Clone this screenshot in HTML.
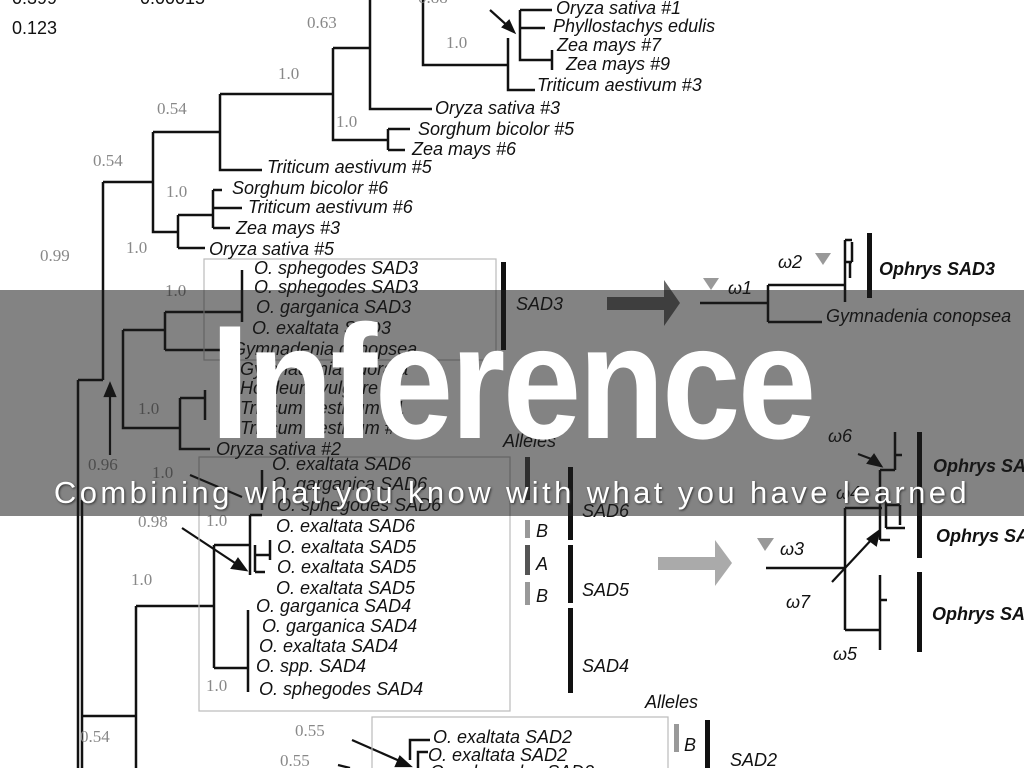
<!DOCTYPE html>
<html><head><meta charset="utf-8"><style>
html,body{margin:0;padding:0;background:#fff;width:1024px;height:768px;overflow:hidden;position:relative}
svg{position:absolute;left:0;top:0}
.l{font-family:"Liberation Sans",sans-serif;font-style:italic;font-size:18px;fill:#111}
.g{font-family:"Liberation Serif",serif;font-size:17px;fill:#888}
.b{font-family:"Liberation Sans",sans-serif;font-style:italic;font-weight:bold;font-size:18px;fill:#111}
#banner{position:absolute;left:0;top:290px;width:1024px;height:226px;background:rgba(30,30,30,0.55)}
#t1{position:absolute;left:0;top:302px;width:1024px;text-align:center;font-family:"Liberation Sans",sans-serif;font-weight:bold;font-size:162px;color:#fff;line-height:1;letter-spacing:-3px;transform:scaleX(0.87);transform-origin:512px 0}
#t2{position:absolute;left:0;top:477px;width:1024px;text-align:center;font-family:"Liberation Sans",sans-serif;font-size:31px;color:#fff;letter-spacing:3.4px;text-shadow:1px 1px 2px #333;line-height:1}
</style></head><body>
<svg width="1024" height="768" viewBox="0 0 1024 768">
<g fill="none" stroke="#111" stroke-width="2.5">
<path d="M370 0V109H432M333 48H370M333 48V140H388M388 129V150M388 129H410M388 150H405"/>
<path d="M423 0V65H508M508 38V90H535M520 10V60H545M520 10H552M520 28H545M520 60H552M552 50V70"/>
<path d="M220 94H333M220 94V170H262M153 132H220M153 132V232H178M178 215V248M178 215H213M178 248H205M213 190V228M213 190H222M213 208H242M213 228H230"/>
<path d="M103 182H153M103 182V380"/>
<path d="M123 330V428H180M123 330H165M165 312V350M165 312H242M165 350H240M242 270V322"/>
<path d="M180 398V449H210M180 398H205M205 390V420"/>
<path d="M78 380H103M78 380V768M82 500V768M82 716H136M136 606V768M136 606H214M214 545V668M214 545H250M214 668H248M248 610V692M250 515V575M250 515H262M262 470V510M255 545V572M255 555H270M255 572H265M270 540V560"/>
<path d="M700 303H768M768 285V322M768 285H845M768 322H822M845 240V302M845 240H852M852 242V262M845 262H852M850 262V278"/>
<path d="M766 568H845M845 508V630M845 508H882M845 630H880M880 470V540M880 470H895M880 540H890M895 432V470M895 455H902M886 490V528M886 505H900M900 505V525M886 528H905M880 575V650M880 600H887"/>
<path d="M410 760V740H430M418 768V752H428"/>
</g>
<g stroke="#111" stroke-width="2.2" fill="#111">
<line x1="490" y1="10" x2="510" y2="28"/><polygon points="514,32 503,27 509,21"/>
<line x1="110" y1="455" x2="110" y2="392"/><polygon points="110,384 105,396 115,396"/>
<line x1="190" y1="475" x2="242" y2="497"/>
<line x1="182" y1="528" x2="238" y2="565"/><polygon points="246,570 232,568 238,559"/>
<line x1="352" y1="740" x2="402" y2="762"/><polygon points="410,766 396,766 400,757"/>
<line x1="338" y1="765" x2="350" y2="768"/>
<line x1="858" y1="454" x2="874" y2="460"/><polygon points="881,466 868,463 874,455"/>
<line x1="832" y1="582" x2="873" y2="538"/><polygon points="879,531 876,545 868,539"/>
</g>
<g fill="none" stroke="#bbb" stroke-width="1.2">
<rect x="204" y="259" width="292" height="101"/>
<rect x="199" y="457" width="311" height="254"/>
<rect x="372" y="717" width="296" height="60"/>
</g>
<g fill="#111">
<rect x="501" y="262" width="5" height="88"/>
<rect x="568" y="467" width="5" height="73"/>
<rect x="568" y="545" width="5" height="58"/>
<rect x="568" y="608" width="5" height="85"/>
<rect x="525" y="457" width="5" height="43" fill="#444"/>
<rect x="525" y="545" width="5" height="30" fill="#555"/>
<rect x="705" y="720" width="5" height="48"/>
<rect x="867" y="233" width="5" height="65"/>
<rect x="917" y="432" width="5" height="126"/>
<rect x="917" y="572" width="5" height="80"/>
</g>
<g fill="#999">
<rect x="525" y="520" width="5" height="18"/>
<rect x="525" y="582" width="5" height="23"/>
<rect x="674" y="724" width="5" height="28"/>
<polygon points="703,278 719,278 711,290"/>
<polygon points="815,253 831,253 823,265"/>
<polygon points="757,538 774,538 765,551"/>
</g>
<polygon points="607,297 664,297 664,280 680,303 664,326 664,310 607,310" fill="#666"/>
<polygon points="658,557 715,557 715,540 732,563 715,586 715,570 658,570" fill="#aaa"/>
<g class="l">
<text x="556" y="14">Oryza sativa #1</text>
<text x="553" y="32">Phyllostachys edulis</text>
<text x="557" y="51">Zea mays #7</text>
<text x="566" y="70">Zea mays #9</text>
<text x="537" y="91">Triticum aestivum #3</text>
<text x="435" y="114">Oryza sativa #3</text>
<text x="418" y="135">Sorghum bicolor #5</text>
<text x="412" y="155">Zea mays #6</text>
<text x="267" y="173">Triticum aestivum #5</text>
<text x="232" y="194">Sorghum bicolor #6</text>
<text x="248" y="213">Triticum aestivum #6</text>
<text x="236" y="234">Zea mays #3</text>
<text x="209" y="255">Oryza sativa #5</text>
<text x="254" y="274">O. sphegodes SAD3</text>
<text x="254" y="293">O. sphegodes SAD3</text>
<text x="256" y="313">O. garganica SAD3</text>
<text x="252" y="334">O. exaltata SAD3</text>
<text x="232" y="355">Gymnadenia conopsea</text>
<text x="240" y="375">Gymnadenia odorata</text>
<text x="240" y="394">Hordeum vulgare #1</text>
<text x="240" y="414">Triticum aestivum #1</text>
<text x="240" y="434">Triticum aestivum #4</text>
<text x="216" y="455">Oryza sativa #2</text>
<text x="503" y="447">Alleles</text>
<text x="516" y="310">SAD3</text>
<text x="272" y="470">O. exaltata SAD6</text>
<text x="272" y="490">O. garganica SAD6</text>
<text x="277" y="511">O. sphegodes SAD6</text>
<text x="276" y="532">O. exaltata SAD6</text>
<text x="277" y="553">O. exaltata SAD5</text>
<text x="277" y="573">O. exaltata SAD5</text>
<text x="276" y="594">O. exaltata SAD5</text>
<text x="256" y="612">O. garganica SAD4</text>
<text x="262" y="632">O. garganica SAD4</text>
<text x="259" y="652">O. exaltata SAD4</text>
<text x="256" y="672">O. spp. SAD4</text>
<text x="259" y="695">O. sphegodes SAD4</text>
<text x="582" y="517">SAD6</text>
<text x="536" y="537">B</text>
<text x="536" y="570">A</text>
<text x="536" y="602">B</text>
<text x="582" y="596">SAD5</text>
<text x="582" y="672">SAD4</text>
<text x="645" y="708">Alleles</text>
<text x="684" y="751">B</text>
<text x="730" y="766">SAD2</text>
<text x="433" y="743">O. exaltata SAD2</text>
<text x="428" y="761">O. exaltata SAD2</text>
<text x="430" y="778">O. sphegodes SAD2</text>
<text x="728" y="294">ω1</text>
<text x="778" y="268">ω2</text>
<text x="826" y="322">Gymnadenia conopsea</text>
<text x="780" y="555">ω3</text>
<text x="828" y="442">ω6</text>
<text x="836" y="499">ω4</text>
<text x="786" y="608">ω7</text>
<text x="833" y="660">ω5</text>
</g>
<g class="b">
<text x="879" y="275">Ophrys SAD3</text>
<text x="933" y="472">Ophrys SAD1</text>
<text x="936" y="542">Ophrys SAD1</text>
<text x="932" y="620">Ophrys SAD1</text>
</g>
<g class="g">
<text x="418" y="3">0.88</text>
<text x="307" y="28">0.63</text>
<text x="278" y="79">1.0</text>
<text x="157" y="114">0.54</text>
<text x="336" y="127">1.0</text>
<text x="93" y="166">0.54</text>
<text x="166" y="197">1.0</text>
<text x="446" y="48">1.0</text>
<text x="40" y="261">0.99</text>
<text x="126" y="253">1.0</text>
<text x="165" y="296">1.0</text>
<text x="138" y="414">1.0</text>
<text x="88" y="470">0.96</text>
<text x="152" y="478">1.0</text>
<text x="138" y="527">0.98</text>
<text x="206" y="526">1.0</text>
<text x="131" y="585">1.0</text>
<text x="206" y="691">1.0</text>
<text x="80" y="742">0.54</text>
<text x="295" y="736">0.55</text>
<text x="280" y="766">0.55</text>
</g>
<g font-family="Liberation Sans,sans-serif" font-size="18" fill="#111">
<text x="12" y="4">0.399</text>
<text x="140" y="4">0.00015</text>
<text x="12" y="34">0.123</text>
</g>
</svg>
<div id="banner"></div>
<div id="t1">Inference</div>
<div id="t2">Combining what you know with what you have learned</div>
</body></html>
